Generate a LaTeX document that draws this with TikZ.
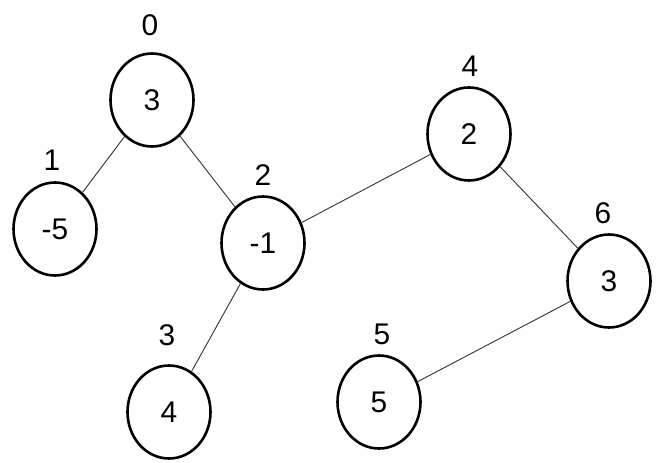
\documentclass[tikz,border=0pt]{standalone}
\usepackage{fontspec}
\setmainfont{Liberation Sans}
\usetikzlibrary{shapes.geometric}
\begin{document}
\begin{tikzpicture}[x=1bp,y=-1bp,
  vert/.style={ellipse,draw=black,line width=2.6bp,fill=white,inner sep=0pt,
    minimum width=83bp,minimum height=93bp,font=\fontsize{30}{30}\selectfont},
  idx/.style={inner sep=0pt,font=\fontsize{30}{30}\selectfont},
  edge/.style={draw=black!80,line width=0.9bp}]
\useasboundingbox (0,0) rectangle (658,463);
\fill[white] (0,0) rectangle (658,463);
\node[vert] (n0) at (152,100) {3};
\node[vert] (n1) at (55,229) {-5};
\node[vert] (n2) at (263,243) {-1};
\node[vert] (n4) at (469,134) {2};
\node[vert] (n6) at (609,281) {3};
\node[vert] (n3) at (169,412) {4};
\node[vert] (n5) at (379,402) {5};
\node[idx] (l0) at (150,25) {0};
\node[idx] (l1) at (52,160) {1};
\node[idx] (l2) at (263,175) {2};
\node[idx] (l4) at (470,66) {4};
\node[idx] (l6) at (603,213) {6};
\node[idx] (l3) at (167,335) {3};
\node[idx] (l5) at (382,334) {5};
\draw[edge] (n0) -- (n1);
\draw[edge] (n0) -- (n2);
\draw[edge] (n2) -- (n4);
\draw[edge] (n4) -- (n6);
\draw[edge] (n6) -- (n5);
\draw[edge] (n2) -- (n3);
\end{tikzpicture}
\end{document}
